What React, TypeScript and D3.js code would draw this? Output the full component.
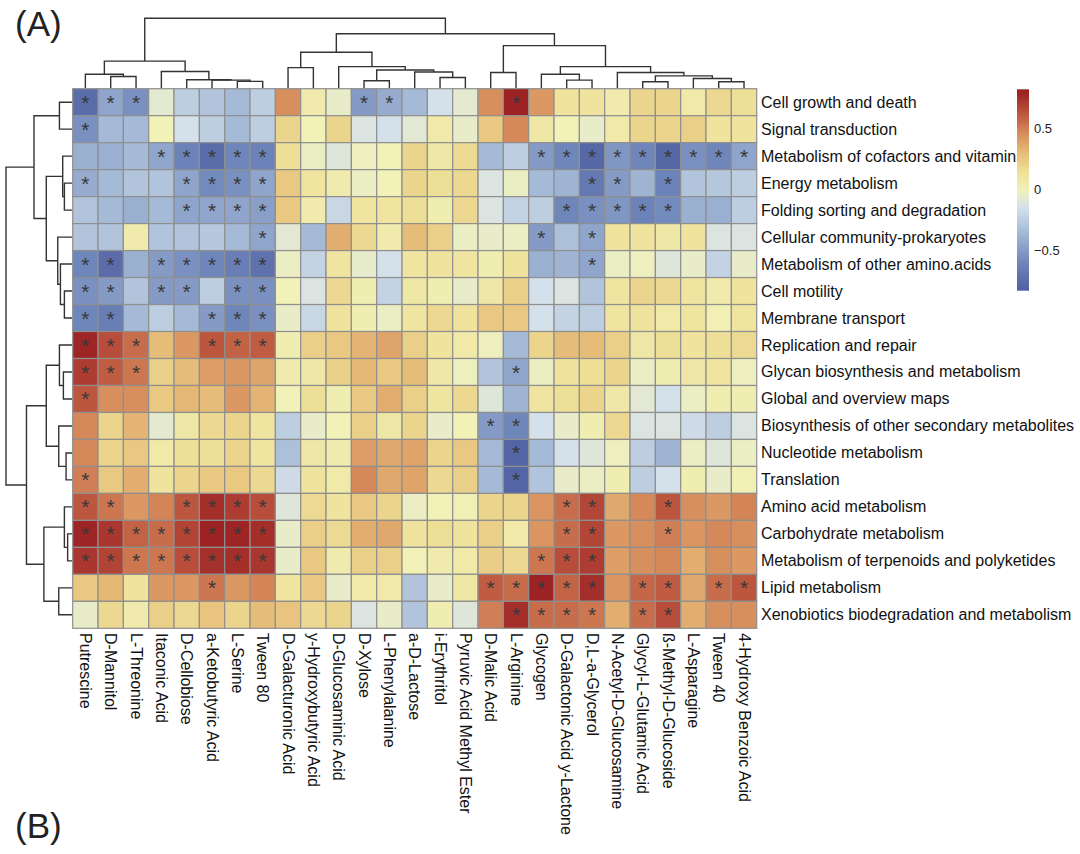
import React, { useEffect } from "react";
import * as d3 from "d3";

const rowLabels = [
  "Cell growth and death",
  "Signal transduction",
  "Metabolism of cofactors and vitamins",
  "Energy metabolism",
  "Folding sorting and degradation",
  "Cellular community-prokaryotes",
  "Metabolism of other amino.acids",
  "Cell motility",
  "Membrane transport",
  "Replication and repair",
  "Glycan biosynthesis and metabolism",
  "Global and overview maps",
  "Biosynthesis of other secondary metabolites",
  "Nucleotide metabolism",
  "Translation",
  "Amino acid metabolism",
  "Carbohydrate metabolism",
  "Metabolism of terpenoids and polyketides",
  "Lipid metabolism",
  "Xenobiotics biodegradation and metabolism",
];

const colLabels = [
  "Putrescine",
  "D-Mannitol",
  "L-Threonine",
  "Itaconic Acid",
  "D-Cellobiose",
  "a-Ketobutyric Acid",
  "L-Serine",
  "Tween 80",
  "D-Galacturonic Acid",
  "y-Hydroxybutyric Acid",
  "D-Glucosaminic Acid",
  "D-Xylose",
  "L-Phenylalanine",
  "a-D-Lactose",
  "i-Erythritol",
  "Pyruvic Acid Methyl Ester",
  "D-Malic Acid",
  "L-Arginine",
  "Glycogen",
  "D-Galactonic Acid y-Lactone",
  "D,L-a-Glycerol",
  "N-Acetyl-D-Glucosamine",
  "Glycyl-L-Glutamic Acid",
  "ß-Methyl-D-Glucoside",
  "L-Asparagine",
  "Tween 40",
  "4-Hydroxy Benzoic Acid",
];

const values: number[][] = [
  [-0.75, -0.45, -0.55, -0.07, -0.25, -0.3, -0.35, -0.25, 0.45, 0.05, -0.05, -0.5, -0.42, -0.35, -0.15, -0.07, 0.45, 0.79, 0.42, 0.12, 0.12, 0.05, 0.2, 0.2, 0.07, 0.18, 0.15],
  [-0.55, -0.35, -0.35, 0.0, -0.15, -0.25, -0.35, -0.25, 0.2, 0.0, 0.2, -0.12, -0.15, -0.08, 0.07, -0.05, 0.25, 0.47, 0.08, 0.0, -0.05, 0.07, 0.2, 0.2, 0.22, 0.12, 0.12],
  [-0.4, -0.4, -0.35, -0.45, -0.62, -0.75, -0.6, -0.62, 0.15, -0.03, -0.1, -0.02, 0.0, 0.2, 0.08, 0.17, -0.35, -0.25, -0.5, -0.6, -0.78, -0.52, -0.6, -0.78, -0.55, -0.6, -0.45],
  [-0.42, -0.35, -0.3, -0.3, -0.45, -0.58, -0.55, -0.45, 0.25, 0.1, 0.05, -0.03, 0.0, 0.2, 0.15, 0.18, -0.12, -0.03, -0.35, -0.38, -0.68, -0.5, -0.38, -0.62, -0.3, -0.28, -0.25],
  [-0.3, -0.35, -0.4, -0.35, -0.45, -0.45, -0.45, -0.48, 0.25, 0.05, -0.2, 0.1, 0.1, 0.15, 0.03, 0.18, -0.12, -0.22, -0.25, -0.6, -0.55, -0.52, -0.62, -0.58, -0.4, -0.4, -0.25],
  [-0.3, -0.3, 0.05, -0.3, -0.3, -0.28, -0.35, -0.45, -0.08, -0.35, 0.35, 0.18, 0.05, 0.3, 0.22, -0.03, -0.05, -0.03, -0.5, -0.32, -0.45, 0.12, 0.12, 0.08, 0.12, -0.12, -0.12],
  [-0.6, -0.75, -0.4, -0.5, -0.55, -0.6, -0.65, -0.72, -0.03, -0.22, 0.1, -0.06, -0.15, 0.1, 0.12, 0.1, 0.03, 0.12, -0.4, -0.38, -0.45, -0.03, -0.02, -0.1, -0.05, -0.22, -0.05],
  [-0.55, -0.5, -0.3, -0.5, -0.5, -0.25, -0.55, -0.55, 0.0, -0.12, 0.18, 0.03, -0.22, 0.08, 0.03, -0.05, 0.08, 0.22, -0.15, -0.12, -0.3, 0.1, 0.2, 0.18, 0.1, 0.05, 0.12],
  [-0.6, -0.65, -0.35, -0.25, -0.35, -0.5, -0.6, -0.55, -0.05, -0.2, 0.12, 0.03, -0.03, 0.1, 0.18, 0.12, 0.25, 0.25, -0.15, -0.22, -0.25, 0.1, 0.12, 0.07, 0.1, 0.02, 0.1],
  [0.78, 0.65, 0.55, 0.3, 0.42, 0.62, 0.58, 0.6, 0.03, 0.22, 0.25, 0.33, 0.38, 0.22, 0.12, 0.07, -0.02, -0.35, 0.2, 0.3, 0.3, 0.22, 0.08, 0.15, 0.12, 0.15, 0.17],
  [0.7, 0.6, 0.52, 0.22, 0.3, 0.4, 0.42, 0.38, 0.05, 0.08, 0.22, 0.32, 0.25, 0.3, 0.08, -0.02, -0.3, -0.45, -0.03, 0.12, 0.15, 0.2, -0.03, 0.03, 0.08, 0.1, -0.02],
  [0.62, 0.45, 0.45, 0.25, 0.32, 0.3, 0.42, 0.33, 0.0, 0.15, 0.03, 0.25, 0.35, 0.22, 0.1, 0.18, -0.1, -0.38, 0.1, 0.15, 0.2, 0.08, -0.08, -0.15, -0.03, 0.03, 0.03],
  [0.47, 0.2, 0.33, -0.07, 0.08, 0.18, 0.2, 0.1, -0.25, -0.05, 0.0, 0.22, 0.08, 0.2, -0.05, 0.0, -0.5, -0.6, -0.15, -0.05, 0.03, 0.18, -0.12, -0.12, -0.18, -0.25, -0.12],
  [0.47, 0.2, 0.25, 0.07, 0.15, 0.15, 0.2, 0.1, -0.32, 0.08, 0.05, 0.4, 0.37, 0.38, 0.2, 0.25, -0.35, -0.8, -0.35, -0.15, -0.1, -0.02, -0.25, -0.38, -0.03, -0.1, -0.03],
  [0.5, 0.25, 0.35, 0.12, 0.2, 0.25, 0.25, 0.18, -0.18, 0.12, 0.07, 0.47, 0.37, 0.38, 0.18, 0.22, -0.35, -0.8, -0.3, -0.05, -0.03, 0.03, -0.25, -0.15, 0.03, -0.05, 0.02],
  [0.62, 0.52, 0.42, 0.48, 0.62, 0.75, 0.7, 0.65, -0.1, 0.17, 0.12, 0.25, 0.2, -0.03, 0.0, 0.02, 0.2, 0.2, 0.43, 0.55, 0.67, 0.37, 0.47, 0.62, 0.45, 0.42, 0.48],
  [0.78, 0.72, 0.58, 0.55, 0.68, 0.8, 0.78, 0.75, -0.05, 0.22, 0.17, 0.35, 0.37, 0.12, 0.15, 0.12, 0.22, 0.07, 0.43, 0.55, 0.67, 0.42, 0.45, 0.5, 0.43, 0.47, 0.45],
  [0.72, 0.68, 0.52, 0.52, 0.65, 0.74, 0.75, 0.72, -0.05, 0.25, 0.05, 0.22, 0.22, 0.0, 0.05, 0.07, 0.23, 0.18, 0.52, 0.65, 0.7, 0.4, 0.45, 0.47, 0.35, 0.45, 0.42],
  [0.25, 0.32, 0.12, 0.42, 0.42, 0.52, 0.42, 0.48, 0.1, 0.25, -0.05, 0.07, 0.07, -0.3, -0.05, 0.08, 0.6, 0.55, 0.8, 0.58, 0.75, 0.43, 0.57, 0.6, 0.37, 0.55, 0.62],
  [-0.05, 0.18, 0.05, 0.22, 0.18, 0.27, 0.2, 0.3, 0.27, 0.18, 0.2, -0.12, -0.05, -0.3, 0.03, -0.1, 0.5, 0.75, 0.55, 0.55, 0.52, 0.35, 0.55, 0.65, 0.35, 0.45, 0.45],
];

const starCols: number[][] = [
  [0, 1, 2, 11, 12, 17],
  [0],
  [3, 4, 5, 6, 7, 18, 19, 20, 21, 22, 23, 24, 25, 26],
  [0, 4, 5, 6, 7, 20, 21, 23],
  [4, 5, 6, 7, 19, 20, 21, 22, 23],
  [7, 18, 20],
  [0, 1, 3, 4, 5, 6, 7, 20],
  [0, 1, 3, 4, 6, 7],
  [0, 1, 5, 6, 7],
  [0, 1, 2, 5, 6, 7],
  [0, 1, 2, 17],
  [0],
  [16, 17],
  [17],
  [0, 17],
  [0, 1, 4, 5, 6, 7, 19, 20, 23],
  [0, 1, 2, 3, 4, 5, 6, 7, 19, 20, 23],
  [0, 1, 2, 3, 4, 5, 6, 7, 18, 19, 20],
  [5, 16, 17, 18, 19, 20, 22, 23, 25, 26],
  [17, 18, 19, 20, 22, 23],
];

type Tree = number | [number, Tree, Tree];

const colTree: Tree = [70.7,
  [27.3,
    [14, 0, [11.7, 1, 2]],
    [16.7, 3, [8.3, 4, [8, 5, [6.7, 6, 7]]]]],
  [55,
    [36.3,
      [20.7, 8, 9],
      [21.7, 10, [18.3, [7.3, 11, 12], [16.3, 13, [10.7, 14, 15]]]]],
    [43,
      [15.7, 16, 17],
      [21.7,
        [14, 18, [8, 19, 20]],
        [15.7, 21, [12.3, [6.3, 22, 23], [9.7, 24, [6.3, 25, 26]]]]]]]];

const rowTree: Tree = [66.7,
  [38.4,
    [12.7, 0, 1],
    [26,
      [9.4, 2, [7.7, 3, 4]],
      [14.4, 5, [11.7, 6, [7.7, 7, 8]]]]],
  [46,
    [26,
      [12.7, 9, [8.7, 10, 11]],
      [13.4, 12, [6, 13, 14]]],
    [28.4,
      [7.7, 15, [4.4, 16, 17]],
      [13.4, 18, 19]]]];

const legendTicks = [0.5, 0, -0.5];
const legendDomain = [-0.83, 0.82];
const colorStops = [-0.87, -0.6, -0.35, -0.15, 0, 0.15, 0.3, 0.45, 0.6, 0.79];
const colorRange = ["#49599c", "#6f86bb", "#a5bad6", "#d5e1ea", "#f1f1b8", "#eedf96", "#e6bd78", "#d88f5e", "#c05c42", "#9c2224"];

const FONT = "'Liberation Sans', Arial, Helvetica, sans-serif";

export default function App() {
  useEffect(() => {
    document.body.style.margin = "0";
  }, []);

  const x = d3.scaleBand<number>().domain(d3.range(colLabels.length)).range([72.7, 756.7]);
  const y = d3.scaleBand<number>().domain(d3.range(rowLabels.length)).range([88.7, 628.3]);
  const color = d3.scaleLinear<string>().domain(colorStops).range(colorRange).clamp(true);
  const colH = d3.scaleLinear().domain([0, 70.7]).range([88, 18.3]);
  const rowH = d3.scaleLinear().domain([0, 66.7]).range([72, 6]);
  const LT = 89.3;
  const LB = 290.7;
  const ly = d3.scaleLinear().domain(legendDomain).range([LB, LT]);

  const colPaths: string[] = [];
  const walkCol = (t: Tree): { p: number; h: number } => {
    if (typeof t === "number") return { p: (x(t) as number) + x.bandwidth() / 2, h: 0 };
    const [h, a, b] = t;
    const ra = walkCol(a);
    const rb = walkCol(b);
    const path = d3.path();
    path.moveTo(ra.p, colH(ra.h));
    path.lineTo(ra.p, colH(h));
    path.lineTo(rb.p, colH(h));
    path.lineTo(rb.p, colH(rb.h));
    colPaths.push(path.toString());
    return { p: (ra.p + rb.p) / 2, h };
  };
  walkCol(colTree);

  const rowPaths: string[] = [];
  const walkRow = (t: Tree): { p: number; h: number } => {
    if (typeof t === "number") return { p: (y(t) as number) + y.bandwidth() / 2, h: 0 };
    const [h, a, b] = t;
    const ra = walkRow(a);
    const rb = walkRow(b);
    const path = d3.path();
    path.moveTo(rowH(ra.h), ra.p);
    path.lineTo(rowH(h), ra.p);
    path.lineTo(rowH(h), rb.p);
    path.lineTo(rowH(rb.h), rb.p);
    rowPaths.push(path.toString());
    return { p: (ra.p + rb.p) / 2, h };
  };
  walkRow(rowTree);

  // gradient from top (max) to bottom (min), offsets increasing
  const gradStops = d3.range(0, 41).map((i) => {
    const v = legendDomain[1] - ((legendDomain[1] - legendDomain[0]) * i) / 40;
    return { offset: (ly(v) - LT) / (LB - LT), c: color(v) };
  });

  const fmt = (t: number) => (t < 0 ? "\u2212" + String(-t) : String(t));

  return (
    <svg width={1080} height={854} style={{ display: "block", background: "#fff" }} fontFamily={FONT}>
      <defs>
        <linearGradient id="lg" x1="0" y1="0" x2="0" y2="1">
          {gradStops.map((s, i) => (
            <stop key={i} offset={s.offset} stopColor={s.c} />
          ))}
        </linearGradient>
      </defs>
      <text x={15} y={36} fontSize={35} fill="#222">(A)</text>
      <text x={15} y={838} fontSize={35} fill="#222">(B)</text>

      {colPaths.map((d, i) => (
        <path key={"c" + i} d={d} fill="none" stroke="#333" strokeWidth={1.4} />
      ))}
      {rowPaths.map((d, i) => (
        <path key={"r" + i} d={d} fill="none" stroke="#333" strokeWidth={1.4} />
      ))}

      {values.map((row, r) =>
        row.map((v, c) => (
          <rect
            key={r + "-" + c}
            x={x(c)}
            y={y(r)}
            width={x.bandwidth()}
            height={y.bandwidth()}
            fill={color(v)}
            stroke="#8f8f8f"
            strokeWidth={1.2}
          />
        ))
      )}
      {starCols.map((cols, r) =>
        cols.map((c) => (
          <text
            key={"s" + r + "-" + c}
            x={(x(c) as number) + x.bandwidth() / 2}
            y={(y(r) as number) + 21}
            fontSize={21}
            textAnchor="middle"
            fill="#383838"
          >
            *
          </text>
        ))
      )}

      {rowLabels.map((l, r) => (
        <text
          key={"rl" + r}
          x={761}
          y={(y(r) as number) + y.bandwidth() / 2}
          dominantBaseline="central"
          fontSize={16}
          fill="#111"
        >
          {l}
        </text>
      ))}
      {colLabels.map((l, c) => (
        <text
          key={"cl" + c}
          transform={`translate(${(x(c) as number) + x.bandwidth() / 2},${633}) rotate(90)`}
          dominantBaseline="central"
          fontSize={16}
          fill="#111"
        >
          {l}
        </text>
      ))}

      <rect x={1017} y={LT} width={12} height={LB - LT} fill="url(#lg)" />
      {legendTicks.map((t) => (
        <text key={"t" + t} x={1034} y={ly(t)} dominantBaseline="central" fontSize={13} fill="#222">
          {fmt(t)}
        </text>
      ))}
    </svg>
  );
}
